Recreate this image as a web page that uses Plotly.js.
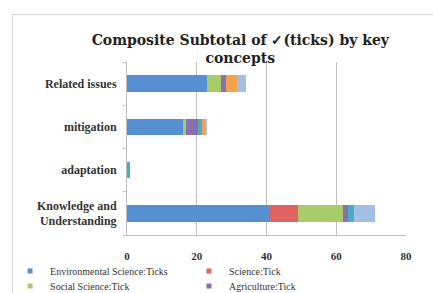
<!DOCTYPE html>
<html><head><meta charset="utf-8">
<script src="https://cdn.plot.ly/plotly-3.0.1.min.js"></script>
<style>
html,body{margin:0;padding:0;background:#fff;}
#chart{width:433px;height:293px;}
#frame{position:absolute;left:12px;top:14px;width:440px;height:300px;border-left:1px solid #d9d9d9;border-top:1px solid #d9d9d9;pointer-events:none;}
</style></head>
<body>
<div id="chart"></div>
<div id="frame"></div>
<script>
const categories = ["Knowledge and<br>Understanding", "adaptation", "mitigation", "Related issues"];
const envScience = [41, 0, 16, 23];
const science    = [8, 0, 0, 0];
const socScience = [13, 0, 1, 4];
const agriculture= [1.5, 0, 3.5, 1.5];
const series5    = [1.5, 1, 1, 0];
const series6    = [0, 0, 1, 3];
const series7    = [6, 0, 0.5, 2.5];
const xTicks = [0, 20, 40, 60, 80];

const seriesList = [
  {name: "Environmental Science:Ticks", v: envScience, c: "#5690d2", leg: "legend"},
  {name: "Science:Tick", v: science, c: "#e0625f", leg: "legend2"},
  {name: "Social Science:Tick", v: socScience, c: "#a9cc6b", leg: "legend3"},
  {name: "Agriculture:Tick", v: agriculture, c: "#8a6fb0", leg: "legend4"},
  {name: "Series 5", v: series5, c: "#4bacc6", leg: null},
  {name: "Series 6", v: series6, c: "#f7a04a", leg: null},
  {name: "Series 7", v: series7, c: "#a3bfe6", leg: null}
];

const data = seriesList.map(s => ({
  type: "bar", orientation: "h", name: s.name, y: categories, x: s.v,
  marker: {color: s.c}, showlegend: false, hoverinfo: "x+name"
}));
// legend entries (small square markers like the original)
seriesList.filter(s => s.leg).forEach(s => data.push({
  type: "scatter", mode: "markers", name: s.name, x: [null], y: [null],
  marker: {symbol: "square", size: 5, color: s.c}, showlegend: true, legend: s.leg
}));

const legFont = {family: "Liberation Serif", size: 10, color: "#333"};
function leg(x, y) {
  return {orientation: "v", x: x, xanchor: "left", y: y, yanchor: "top",
    font: legFont, itemwidth: 30, traceorder: "normal", tracegroupgap: 0,
    bgcolor: "rgba(0,0,0,0)"};
}
const layout = {
  width: 433, height: 293,
  margin: {l: 127, r: 27, t: 62, b: 58, autoexpand: false},
  paper_bgcolor: "#fff", plot_bgcolor: "#fff",
  barmode: "stack", bargap: 0.62,
  title: {text: "Composite Subtotal of \u2713(ticks) by key<br>concepts",
    font: {family: "DejaVu Serif", size: 14, color: "#222", weight: "bold"},
    x: 0.555, xanchor: "center", xref: "container", y: 0.847, yanchor: "top", yref: "container"},
  xaxis: {range: [0, 80], tickvals: xTicks, ticktext: xTicks.map(String),
    showgrid: true, gridcolor: "#bfbfbf", gridwidth: 1, zeroline: false,
    showline: true, linecolor: "#bfbfbf", ticks: "", ticklabelstandoff: 11,
    tickfont: {family: "Liberation Serif", size: 11, color: "#333", weight: "bold"}},
  yaxis: {showgrid: false, showline: true, linecolor: "#bfbfbf",
    ticks: "outside", tickson: "boundaries", ticklen: 3, tickcolor: "#bfbfbf",
    tickfont: {family: "Liberation Serif", size: 12, color: "#333", weight: "bold"},
    ticklabelstandoff: 7, automargin: false},
  legend:  leg(-0.419, -0.124),
  legend2: leg(0.222, -0.124),
  legend3: leg(-0.419, -0.211),
  legend4: leg(0.222, -0.211),
  showlegend: true
};

Plotly.newPlot("chart", data, layout, {displayModeBar: false, staticPlot: true});
</script>
</body></html>
